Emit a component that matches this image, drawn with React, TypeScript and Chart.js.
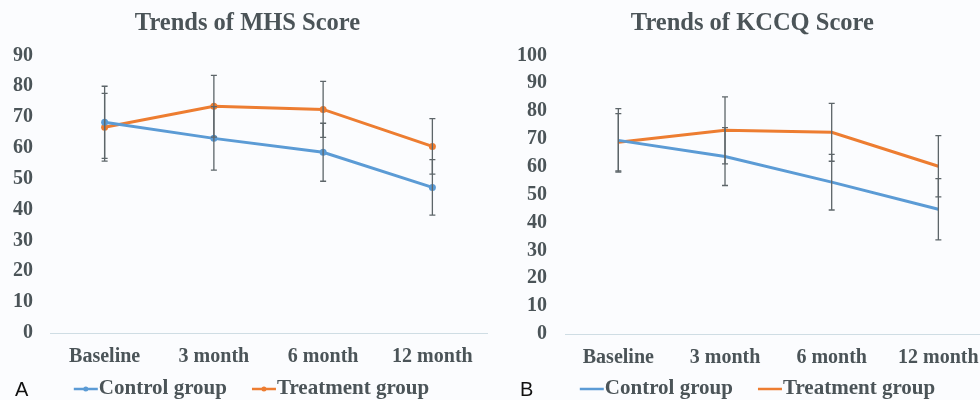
import React, { useEffect, useRef } from "react";
import { Chart, registerables } from "chart.js";
Chart.register(...registerables);

const categories = ["Baseline", "3 month", "6 month", "12 month"];

const mhsControl = [68.3, 63.1, 58.6, 47.2];
const mhsTreatment = [66.7, 73.5, 72.5, 60.5];
const mhsControlErr = [11.7, 10.3, 9.4, 9.0];
const mhsTreatmentErr = [11.0, 10.0, 9.1, 9.0];
const mhsMax = 90;

const kccqControl = [69.5, 63.7, 54.5, 44.8];
const kccqTreatment = [68.8, 73.1, 72.4, 60.2];
const kccqControlErr = [11.4, 10.4, 10.0, 11.0];
const kccqTreatmentErr = [10.3, 12.0, 10.4, 11.0];
const kccqMax = 100;

const seriesNames = ["Control group", "Treatment group"];
const BLUE = "#5B9BD5";
const ORANGE = "#ED7D31";
const TEXT = "#4b5458";
const SERIF = "'Liberation Serif', 'Times New Roman', serif";

type PanelProps = {
  title: string;
  letter: string;
  control: number[];
  treatment: number[];
  controlErr: number[];
  treatmentErr: number[];
  yMax: number;
  width: number;
  axisWidth: number;
  tickPad: number;
  xHeight: number;
  padLeft: number;
  padRight: number;
  legendCx: number;
  letterX: number;
  markers: boolean;
};

function Panel(p: PanelProps) {
  const ref = useRef<HTMLCanvasElement>(null);
  useEffect(() => {
    const errs = [p.controlErr, p.treatmentErr];
    const errorBars = {
      id: "errorBars",
      afterDatasetsDraw(chart: any) {
        const ctx = chart.ctx;
        const y = chart.scales.y;
        ctx.save();
        ctx.strokeStyle = "#5d6569";
        ctx.lineWidth = 1.3;
        chart.data.datasets.forEach((ds: any, di: number) => {
          const meta = chart.getDatasetMeta(di);
          meta.data.forEach((pt: any, i: number) => {
            const v = ds.data[i];
            const e = errs[di][i];
            const x = pt.x;
            const yt = y.getPixelForValue(v + e);
            const yb = y.getPixelForValue(v - e);
            ctx.beginPath();
            ctx.moveTo(x, yt);
            ctx.lineTo(x, yb);
            ctx.moveTo(x - 3, yt);
            ctx.lineTo(x + 3, yt);
            ctx.moveTo(x - 3, yb);
            ctx.lineTo(x + 3, yb);
            ctx.stroke();
          });
        });
        ctx.restore();
      },
    };
    const legendAndLetter = {
      id: "legendAndLetter",
      afterDraw(chart: any) {
        const ctx = chart.ctx;
        ctx.save();
        // panel letter
        ctx.fillStyle = "#111";
        ctx.font = "20px 'Liberation Sans', Arial, sans-serif";
        ctx.textBaseline = "alphabetic";
        ctx.textAlign = "left";
        ctx.fillText(p.letter, p.letterX, 396);
        // legend
        ctx.font = "bold 21px " + SERIF;
        ctx.textBaseline = "middle";
        const cy = 389;
        const iconW = 24;
        const gap = 1;
        const itemGap = 25;
        const colors = [BLUE, ORANGE];
        const widths = chart.data.datasets.map((ds: any) => iconW + gap + ctx.measureText(ds.label).width);
        const total = widths.reduce((a: number, b: number) => a + b, 0) + itemGap * (widths.length - 1);
        let x = p.legendCx - total / 2;
        chart.data.datasets.forEach((ds: any, i: number) => {
          ctx.strokeStyle = colors[i];
          ctx.lineWidth = 2.5;
          ctx.beginPath();
          ctx.moveTo(x, cy);
          ctx.lineTo(x + iconW, cy);
          ctx.stroke();
          if (p.markers) {
            ctx.fillStyle = colors[i];
            ctx.beginPath();
            ctx.arc(x + iconW / 2, cy, 2.5, 0, Math.PI * 2);
            ctx.fill();
          }
          ctx.fillStyle = TEXT;
          ctx.fillText(ds.label, x + iconW + gap, cy);
          x += widths[i] + itemGap;
        });
        ctx.restore();
      },
    };
    const chart = new Chart(ref.current!, {
      type: "line",
      data: {
        labels: categories,
        datasets: [
          {
            label: seriesNames[0],
            data: p.control,
            borderColor: BLUE,
            backgroundColor: BLUE,
            borderWidth: 3,
            pointRadius: p.markers ? 3.5 : 0,
            pointBackgroundColor: BLUE,
            pointBorderWidth: 0,
            tension: 0,
          },
          {
            label: seriesNames[1],
            data: p.treatment,
            borderColor: ORANGE,
            backgroundColor: ORANGE,
            borderWidth: 3,
            pointRadius: p.markers ? 3.5 : 0,
            pointBackgroundColor: ORANGE,
            pointBorderWidth: 0,
            tension: 0,
          },
        ],
      },
      options: {
        responsive: false,
        animation: false,
        layout: { padding: { left: p.padLeft, right: p.padRight, top: 0, bottom: 30 } },
        plugins: {
          tooltip: { enabled: false },
          legend: { display: false },
          title: {
            display: true,
            text: p.title,
            color: TEXT,
            font: { family: SERIF, size: 24.5, weight: "bold" },
            padding: { top: 9, bottom: 17 },
          },
        },
        scales: {
          x: {
            offset: true,
            grid: { display: false, drawTicks: false },
            border: { display: true, color: "#cfdde4", width: 1 },
            ticks: {
              color: TEXT,
              padding: 12,
              font: { family: SERIF, size: 20, weight: "bold" },
              maxRotation: 0,
            },
            afterFit: (s: any) => {
              s.height = p.xHeight;
            },
          },
          y: {
            min: 0,
            max: p.yMax,
            grid: { display: false, drawTicks: false },
            border: { display: false },
            ticks: {
              stepSize: 10,
              color: TEXT,
              padding: p.tickPad,
              font: { family: SERIF, size: 20, weight: "bold" },
            },
            afterFit: (s: any) => {
              s.width = p.axisWidth;
            },
          },
        },
      },
      plugins: [errorBars, legendAndLetter],
    } as any);
    return () => chart.destroy();
  }, []);
  return <canvas ref={ref} width={p.width} height={400} style={{ display: "block" }} />;
}

export default function App() {
  return (
    <div
      style={{
        position: "absolute",
        left: 0,
        top: 0,
        width: 980,
        height: 400,
        overflow: "hidden",
        background: "#fbfcfe",
      }}
    >
      <div style={{ position: "absolute", left: 0, top: 0 }}>
        <Panel
          title="Trends of MHS Score"
          letter="A"
          control={mhsControl}
          treatment={mhsTreatment}
          controlErr={mhsControlErr}
          treatmentErr={mhsTreatmentErr}
          yMax={mhsMax}
          width={502}
          axisWidth={42}
          tickPad={17}
          xHeight={37}
          padLeft={8}
          padRight={15}
          legendCx={251.5}
          letterX={15}
          markers={true}
        />
      </div>
      <div style={{ position: "absolute", left: 490, top: 0 }}>
        <Panel
          title="Trends of KCCQ Score"
          letter="B"
          control={kccqControl}
          treatment={kccqTreatment}
          controlErr={kccqControlErr}
          treatmentErr={kccqTreatmentErr}
          yMax={kccqMax}
          width={534}
          axisWidth={52}
          tickPad={18}
          xHeight={36}
          padLeft={23}
          padRight={32.3}
          legendCx={267.5}
          letterX={30}
          markers={false}
        />
      </div>
    </div>
  );
}
